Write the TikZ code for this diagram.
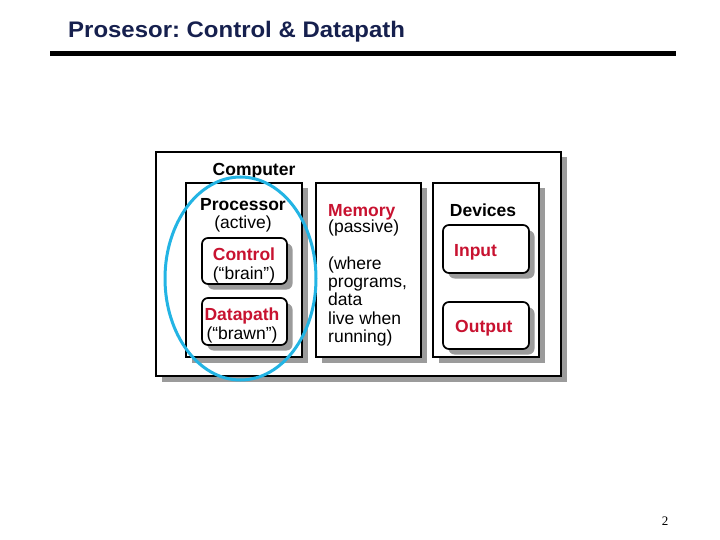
\documentclass[tikz,border=0pt]{standalone}
\usepackage{fontspec}
\setmainfont{Liberation Sans}
\newfontfamily\numfont{Liberation Serif}
\usetikzlibrary{shadows,shapes.geometric}
\definecolor{navy}{RGB}{22,32,78}
\definecolor{crim}{RGB}{200,18,48}
\definecolor{ringcol}{RGB}{35,180,228}
\definecolor{shade}{RGB}{155,155,155}
\frenchspacing
\begin{document}
\begin{tikzpicture}[x=1pt,y=-1pt,
  shad/.style={drop shadow={shadow xshift=5.5pt,shadow yshift=-5.5pt,fill=shade,opacity=1}},
  bigbox/.style={draw=black,fill=white,line width=2pt,inner sep=0pt,outer sep=0pt,anchor=north west,shad},
  colbox/.style={draw=black,fill=white,line width=1.7pt,inner sep=0pt,outer sep=0pt,anchor=north west,shad},
  rbox/.style={draw=black,fill=white,line width=1.7pt,rounded corners=6pt,inner sep=0pt,outer sep=0pt,anchor=north west,shad},
  lbl/.style={inner sep=0pt,anchor=base,font=\fontsize{17.5}{18.3}\selectfont},
  lblb/.style={lbl,font=\fontsize{17.5}{18.3}\selectfont\bfseries},
  red/.style={text=crim},
  lblw/.style={lbl,anchor=base west},
  ring/.style={draw=ringcol,line width=3pt,ellipse,inner sep=0pt}
]
\useasboundingbox (0,0) rectangle (720,540);
% title
\node[inner sep=0pt,anchor=base west,text=navy,font=\fontsize{22.5}{24}\selectfont\bfseries] (title) at (68,38) {\scalebox{1.065}[1]{Prosesor: Control \& Datapath}};
\coordinate (rl) at (50,53.5);
\coordinate (rr) at (676,53.5);
\draw[line width=5.5pt] (rl) -- (rr);
% boxes
\node[bigbox,minimum width=405,minimum height=224] (computer) at (156,152) {};
\node[colbox,minimum width=116,minimum height=174] (proc) at (186,183) {};
\node[colbox,minimum width=105,minimum height=174] (mem) at (316,183) {};
\node[colbox,minimum width=106,minimum height=174] (dev) at (433,183) {};
\node[rbox,minimum width=85,minimum height=46] (ctrl) at (202,238) {};
\node[rbox,minimum width=85,minimum height=47] (dp) at (202,298) {};
\node[rbox,minimum width=86,minimum height=48] (inp) at (443,225) {};
\node[rbox,minimum width=86,minimum height=47] (outp) at (443,302) {};
% labels
\node[lblb] (tcomp) at (254,176) {Computer};
\node[lblb] (tproc) at (243,211) {Processor};
\node[lbl] (tact) at (243,229) {(active)};
\node[lblb,red] (tctrl) at (244,260) {Control};
\node[lbl] (tbrain) at (244,279) {(“brain”)};
\node[lblb,red] (tdp) at (242,320) {Datapath};
\node[lbl] (tbrawn) at (242,339) {(“brawn”)};
\node[lblw,font=\fontsize{17.5}{18.3}\selectfont\bfseries,red] (tmem) at (328,216) {Memory};
\node[lblw] (tpas) at (328,233) {(passive)};
\node[inner sep=0pt,anchor=north west,align=left,font=\fontsize{17.5}{18.3}\selectfont] (twhere) at (328,256.5) {(where\\programs,\\data\\live when\\running)};
\node[lblb] (tdev) at (483,216) {Devices};
\node[lblw,font=\fontsize{17.5}{18.3}\selectfont\bfseries,red] (tin) at (454,256) {Input};
\node[lblw,font=\fontsize{17.5}{18.3}\selectfont\bfseries,red] (tout) at (455,332) {Output};
% ring
\node[ring,minimum width=151,minimum height=203] (cring) at (240.5,278.5) {};
% page number
\node[inner sep=0pt,font=\numfont\fontsize{13}{14}\selectfont] (pnum) at (665,521) {2};
\end{tikzpicture}
\end{document}
